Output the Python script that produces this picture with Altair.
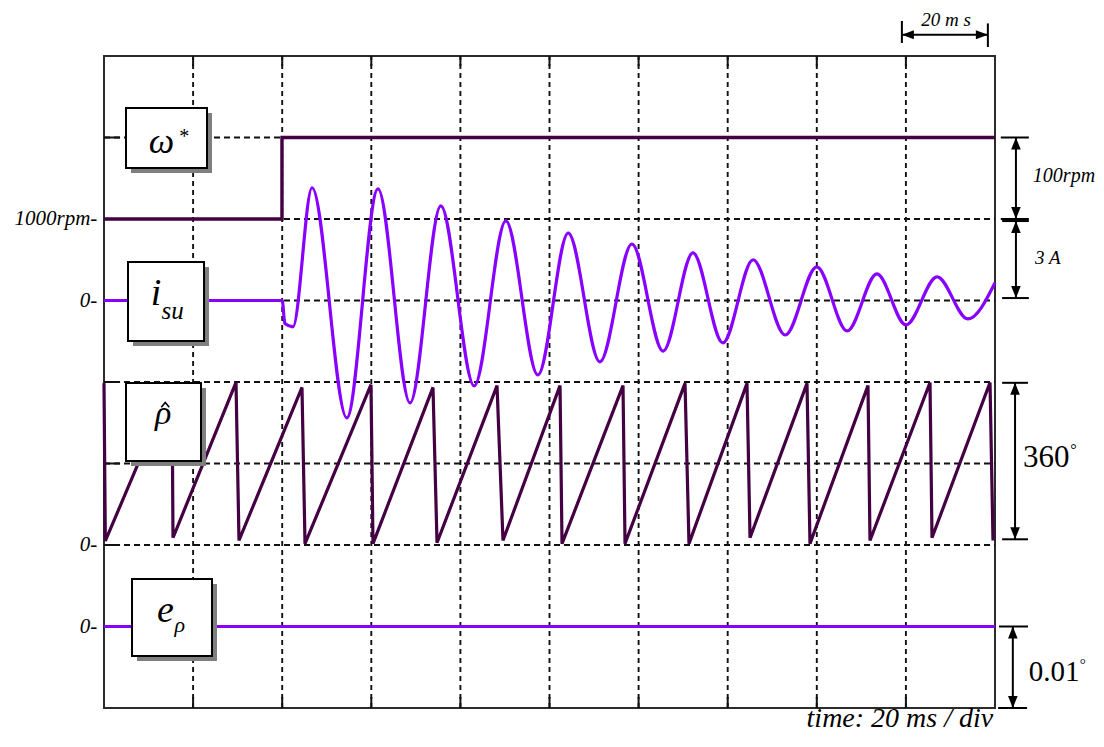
import altair as alt
import pandas as pd

# ---------------- data ----------------
# grid: 20 ms / div horizontally, 8 divisions vertically
grid_t = [20, 40, 60, 80, 100, 120, 140, 160, 180]
grid_div = [1, 2, 3, 4, 5, 6, 7]

# speed reference  (1000 rpm at div 6, 100 rpm / div)
w_t = [0, 39.95, 39.95, 200]
w_rpm = [1000, 1000, 1100, 1100]

# stator current i_su  (0 A at div 5, 3 A / div)  - extremes of the oscillation
i_t = [0, 40.0, 40.6, 42.4, 46.7, 54.5, 61.5, 68.7, 75.6, 83.1, 90.2, 97.4,
       104.2, 111.3, 118.5, 125.5, 132.2, 138.9, 145.7, 152.9, 160.0, 166.8,
       173.5, 180.0, 187.0, 193.9, 200.0]
i_amp = [0, 0, -0.85, -0.97, 4.15, -4.32, 4.11, -3.77, 3.48, -3.14, 2.93, -2.74,
         2.48, -2.26, 2.08, -1.86, 1.75, -1.56, 1.50, -1.27, 1.24, -1.12,
         0.98, -0.90, 0.87, -0.68, 0.65]

# estimated rotor angle rho_hat (0 deg at div 2, 180 deg / div)
rho_t = [0, 0.3, 15.26, 15.49, 29.63, 30.30, 44.44, 45.12, 59.93, 60.38,
         73.85, 74.75, 88.22, 89.56, 102.36, 102.81, 116.50, 116.95, 130.42, 131.31,
         144.33, 145.01, 157.80, 158.47, 171.49, 171.94, 185.41, 185.86, 198.88, 199.55]
rho_deg = [357, 9, 356, 16, 359, 10, 348, 3, 354, 3,
           348, 5, 352, 10, 352, 3, 352, 3, 357, 3,
           357, 16, 357, 3, 352, 10, 359, 16, 359, 10]

# angle error e_rho (0 at div 1, 0.01 deg / div)
e_t = [0, 200]
e_deg = [0, 0]

# ---------------- helpers ----------------
XS = alt.Scale(domain=[0, 200], nice=False, zero=False)
YS = alt.Scale(domain=[0, 8], nice=False, zero=False)
SERIF = "Liberation Serif"
DARK = "#430042"
VIOLET = "#8800ff"


def X(f):
    return alt.X(f, type="quantitative", scale=XS, axis=None)


def Y(f):
    return alt.Y(f, type="quantitative", scale=YS, axis=None)


def trace(t, v, zero_div, per_div):
    return pd.DataFrame({"t": t,
                         "y": [zero_div + val / per_div for val in v],
                         "idx": list(range(len(t)))})


w_df = pd.DataFrame({"t": w_t, "y": [6 + (r - 1000) / 100 for r in w_rpm],
                     "idx": list(range(len(w_t)))})
i_df = trace(i_t, i_amp, 5, 3.0)
rho_df = trace(rho_t, rho_deg, 2, 180.0)
e_df = trace(e_t, e_deg, 1, 0.01)

layers = []

# grid
vg = pd.DataFrame({"t": grid_t, "y0": 0, "y1": 8})
hg = pd.DataFrame({"y": grid_div, "t0": 0, "t1": 200})
layers.append(alt.Chart(vg).mark_rule(color="#111111", strokeWidth=1.9, strokeDash=[5, 4])
              .encode(x=X("t"), y=Y("y0"), y2="y1"))
layers.append(alt.Chart(hg).mark_rule(color="#111111", strokeWidth=1.9, strokeDash=[6, 4])
              .encode(y=Y("y"), x=X("t0"), x2="t1"))
# inner ticks
tt = pd.DataFrame({"t": grid_t * 2, "y0": [8] * 9 + [0] * 9, "y1": [7.875] * 9 + [0.135] * 9})
layers.append(alt.Chart(tt).mark_rule(color="#111111", strokeWidth=2)
              .encode(x=X("t"), y=Y("y0"), y2="y1"))
lt = pd.DataFrame({"y": grid_div, "t0": 0, "t1": 3.6})
layers.append(alt.Chart(lt).mark_rule(color="#111111", strokeWidth=2)
              .encode(y=Y("y"), x=X("t0"), x2="t1"))

# signals
layers.append(alt.Chart(e_df).mark_line(color=VIOLET, strokeWidth=3.2)
              .encode(x=X("t"), y=Y("y"), order="idx:Q"))
layers.append(alt.Chart(rho_df).mark_line(color=DARK, strokeWidth=3.2)
              .encode(x=X("t"), y=Y("y"), order="idx:Q"))
layers.append(alt.Chart(i_df).mark_line(color=VIOLET, strokeWidth=3.2, interpolate="monotone")
              .encode(x=X("t"), y=Y("y"), order="idx:Q"))
layers.append(alt.Chart(w_df).mark_line(color=DARK, strokeWidth=3.4)
              .encode(x=X("t"), y=Y("y"), order="idx:Q"))

# label boxes with drop shadow
boxes = pd.DataFrame({"t0": [4.94, 5.39, 4.94, 6.29], "t1": [23.12, 22.45, 21.77, 24.24],
                      "y0": [6.626, 4.503, 3.031, 0.638], "y1": [7.362, 5.472, 3.988, 1.583]})
layers.append(alt.Chart(boxes).mark_rect(color="#7f7f7f", xOffset=5, x2Offset=5, yOffset=5, y2Offset=5)
              .encode(x=X("t0"), x2="t1", y=Y("y0"), y2="y1"))
layers.append(alt.Chart(boxes).mark_rect(fill="white", stroke="black", strokeWidth=2)
              .encode(x=X("t0"), x2="t1", y=Y("y0"), y2="y1"))


def txt(text, t, y, size, italic=True, align="center", baseline="alphabetic"):
    d = pd.DataFrame({"t": [t], "y": [y], "s": [text]})
    return (alt.Chart(d).mark_text(font=SERIF, fontSize=size, align=align, baseline=baseline,
                                   fontStyle="italic" if italic else "normal", color="black")
            .encode(x=X("t"), y=Y("y"), text="s:N"))


# box contents
layers += [
    txt("ω", 12.9, 6.81, 36),
    txt("*", 16.9, 6.93, 20, italic=False, align="left"),
    txt("i", 11.7, 4.945, 38),
    txt("su", 12.9, 4.77, 25, align="left"),
    txt("ρ", 13.3, 3.49, 34),
    txt("e", 13.8, 1.055, 38),
    txt("ρ", 15.8, 0.93, 22, align="left"),
]
# circumflex (hat) over rho, drawn as a small caret symbol
layers.append(alt.Chart(pd.DataFrame({"t": [13.75], "y": [3.72]}))
              .mark_point(shape="M-1,0.6L0,-0.6L1,0.6", filled=False, size=64, color="black",
                          strokeWidth=1.6, opacity=1)
              .encode(x=X("t"), y=Y("y")))

# left level markers
layers += [
    txt("1000rpm-", -1.5, 6.0, 21, align="right", baseline="middle"),
    txt("0-", -1.5, 5.0, 21, align="right", baseline="middle"),
    txt("0-", -1.5, 2.0, 21, align="right", baseline="middle"),
    txt("0-", -1.5, 1.0, 21, align="right", baseline="middle"),
]

# scale bars (annotation geometry, in chart units)
segs = pd.DataFrame({
    "t0": [201.3, 201.3, 201.6, 201.6, 201.6, 201.6, 200.9, 200.7,
           204.7, 204.7, 204.5, 204.0, 179.1, 179.1, 198.4],
    "t1": [207.6, 207.6, 207.6, 207.6, 207.4, 207.4, 207.4, 207.2,
           204.7, 204.7, 204.5, 204.0, 198.4, 179.1, 198.4],
    "y0": [7.0, 6.0, 5.975, 5.03, 3.99, 2.07, 1.0, 0.0,
           6.0, 5.03, 2.07, 0.0, 8.26, 8.16, 8.11],
    "y1": [7.0, 6.0, 5.975, 5.03, 3.99, 2.07, 1.0, 0.0,
           7.0, 5.975, 3.99, 1.0, 8.26, 8.43, 8.40],
})
layers.append(alt.Chart(segs).mark_rule(color="black", strokeWidth=2)
              .encode(x=X("t0"), x2="t1", y=Y("y0"), y2="y1"))

heads = {
    "M0,0L0.8,2L-0.8,2Z": ([204.7, 204.7, 204.5, 204.0], [7.0, 5.975, 3.99, 1.0]),
    "M0,0L0.8,-2L-0.8,-2Z": ([204.7, 204.7, 204.5, 204.0], [6.0, 5.03, 2.07, 0.0]),
    "M0,0L2,0.75L2,-0.75Z": ([179.1], [8.26]),
    "M0,0L-2,0.75L-2,-0.75Z": ([198.4], [8.26]),
}
for path, (ht, hy) in heads.items():
    layers.append(alt.Chart(pd.DataFrame({"t": ht, "y": hy}))
                  .mark_point(shape=path, filled=True, size=144, color="black", opacity=1, strokeWidth=0)
                  .encode(x=X("t"), y=Y("y")))

layers += [
    txt("20 m s", 189.0, 8.368, 19),
    txt("100rpm", 208.5, 6.53, 20, align="left", baseline="middle"),
    txt("3 A", 209.0, 5.52, 19, align="left", baseline="middle"),
    txt("360", 206.3, 3.07, 31, italic=False, align="left", baseline="middle"),
    txt("°", 216.9, 3.17, 16, italic=False, align="left", baseline="middle"),
    txt("0.01", 207.6, 0.44, 29, italic=False, align="left", baseline="middle"),
    txt("°", 219.0, 0.54, 15, italic=False, align="left", baseline="middle"),
    txt("time: 20 ms / div", 199.6, -0.233, 28, align="right"),
]

chart = (alt.layer(*layers)
         .properties(width=891, height=652,
                     autosize=alt.AutoSizeParams(type="none"),
                     padding={"left": 96, "top": 48, "right": 101, "bottom": 25},
                     background="white")
         .configure_view(stroke="#2b2b2b", strokeWidth=2))

chart.save("out.html", embed_options={"renderer": "svg", "actions": False})
